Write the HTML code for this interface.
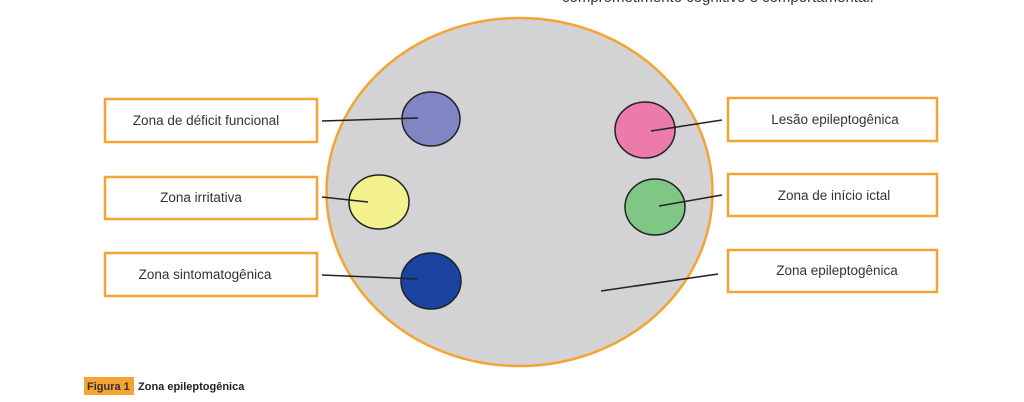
<!DOCTYPE html>
<html><head><meta charset="utf-8"><style>
html,body{margin:0;padding:0;background:#fff;width:1024px;height:402px;overflow:hidden;font-family:"Liberation Sans",sans-serif}
</style></head><body>
<svg width="1024" height="402" xmlns="http://www.w3.org/2000/svg" style="position:absolute;left:0;top:0">
<text x="562" y="2" font-size="15" fill="#333">comprometimento cognitivo e comportamental.</text>
<ellipse cx="519.5" cy="192" rx="193" ry="174" fill="#d3d3d5" stroke="#f5a332" stroke-width="2.5"/>
<g stroke="#f5a332" stroke-width="2.5" fill="#fff">
<rect x="105" y="99" width="212" height="43"/>
<rect x="105" y="177" width="212" height="42"/>
<rect x="105" y="253" width="212" height="43"/>
<rect x="728" y="98" width="209" height="43"/>
<rect x="728" y="174" width="209" height="42"/>
<rect x="728" y="250" width="209" height="42"/>
</g>
<g stroke="#222" stroke-width="1.5">
<ellipse cx="431" cy="119" rx="29" ry="27" fill="#7f86c3"/>
<ellipse cx="379" cy="202" rx="30" ry="27" fill="#f4f28e"/>
<ellipse cx="431" cy="281" rx="30" ry="28" fill="#1b44a0"/>
<ellipse cx="645" cy="130" rx="30" ry="28" fill="#ec7aaa"/>
<ellipse cx="655" cy="207" rx="30" ry="28" fill="#7fc784"/>
<line x1="322" y1="121" x2="418" y2="118"/>
<line x1="322" y1="197" x2="368" y2="202"/>
<line x1="322" y1="275" x2="417" y2="279"/>
<line x1="651" y1="131" x2="722" y2="120"/>
<line x1="659" y1="206" x2="722" y2="195"/>
<line x1="601" y1="291" x2="718" y2="274"/>
</g>
<g font-size="13.5" fill="#333" text-anchor="middle">
<text x="206" y="125">Zona de déficit funcional</text>
<text x="201" y="202">Zona irritativa</text>
<text x="205" y="279">Zona sintomatogênica</text>
<text x="835" y="124">Lesão epileptogênica</text>
<text x="834" y="200">Zona de início ictal</text>
<text x="837" y="275">Zona epileptogênica</text>
</g>
<rect x="84" y="377" width="50" height="18" fill="#f5a332"/>
<text x="87" y="390" font-size="11" font-weight="bold" fill="#333">Figura 1</text>
<text x="138" y="390" font-size="11" font-weight="bold" fill="#222">Zona epileptogênica</text>
</svg>
</body></html>
